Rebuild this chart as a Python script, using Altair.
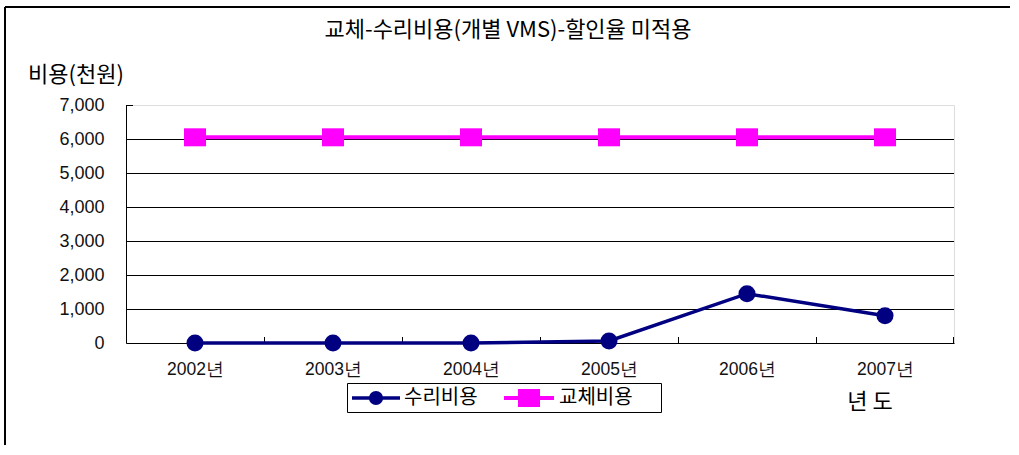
import altair as alt
import pandas as pd

years = ["2002년", "2003년", "2004년", "2005년", "2006년", "2007년"]
repair = [0, 0, 0, 60, 1450, 800]
replace = [6050, 6050, 6050, 6050, 6050, 6050]
series = ["수리비용", "교체비용"]
colors = ["#000080", "#FF00FF"]
grid_values = [1000, 2000, 3000, 4000, 5000, 6000]
y_ticks = [0, 1000, 2000, 3000, 4000, 5000, 6000, 7000]
title_text = "교체-수리비용(개별 VMS)-할인율 미적용"
y_title = "비용(천원)"
x_title = "년 도"

W, H = 828, 238
KFONT = "Noto Sans CJK KR"
NFONT = "Liberation Sans"

df = pd.DataFrame({
    "year": years * 2,
    "value": repair + replace,
    "series": [series[0]] * len(years) + [series[1]] * len(years),
})
df_rep = df[df.series == series[0]]
df_repl = df[df.series == series[1]]

yscale = alt.Scale(domain=[0, 7000], nice=False, zero=True)
xscale = alt.Scale(type="point", padding=0.5, domain=years)

x_axis = alt.Axis(domain=True, domainColor="black", domainWidth=1, ticks=False, grid=False,
                  labelAngle=0, labelFont=NFONT, labelFontSize=17.5, labelColor="#111111",
                  labelPadding=17)
y_axis = alt.Axis(values=y_ticks, format=",.0f", domain=True, domainColor="black", domainWidth=1,
                  ticks=False, grid=False, labelFont=NFONT, labelFontSize=18,
                  labelColor="#111111", labelPadding=22)

X = alt.X("year:O", scale=xscale, title=None, axis=x_axis)
Y = alt.Y("value:Q", scale=yscale, title=None, axis=y_axis)

grid = alt.Chart(pd.DataFrame({"value": grid_values})).mark_rule(color="black", strokeWidth=1).encode(
    y=Y, yOffset=alt.value(0.5), x=alt.value(0), x2=alt.value(W))
stub = alt.Chart(pd.DataFrame({"value": [7000]})).mark_rule(color="black", strokeWidth=1).encode(
    y=Y, yOffset=alt.value(0.5), x=alt.value(0), x2=alt.value(7))

xticks = alt.Chart(pd.DataFrame({"year": years})).mark_rule(color="black", strokeWidth=1).encode(
    x=X, xOffset=alt.value(-68.5), y=alt.value(H), y2=alt.value(H - 6))
xtick_end = alt.Chart(pd.DataFrame({"a": [1]})).mark_rule(color="black", strokeWidth=1).encode(
    x=alt.value(W - 0.5), y=alt.value(H), y2=alt.value(H - 6))

color_enc = alt.Color("series:N", scale=alt.Scale(domain=series, range=colors), legend=None)

line_repl = alt.Chart(df_repl).mark_line(strokeWidth=4).encode(x=X, y=Y, color=color_enc)
pts_repl = alt.Chart(df_repl).mark_point(
    shape="M-1.1,-0.9L1.1,-0.9L1.1,0.9L-1.1,0.9Z", size=400, filled=True, opacity=1).encode(
    x=X, y=Y, color=color_enc)
line_rep = alt.Chart(df_rep).mark_line(strokeWidth=3.5).encode(x=X, y=Y, color=color_enc)
pts_rep = alt.Chart(df_rep).mark_point(shape="circle", size=290, filled=True, opacity=1).encode(
    x=X, y=Y, color=color_enc)

one = pd.DataFrame({"a": [1]})
title = alt.Chart(one).mark_text(text=title_text, font=KFONT, fontSize=22, align="center",
                                 baseline="middle", color="black").encode(
    x=alt.value(382), y=alt.value(-75))
ytitle = alt.Chart(one).mark_text(text=y_title, font=KFONT, fontSize=22, align="left",
                                  baseline="middle", color="black").encode(
    x=alt.value(-98), y=alt.value(-30))
xtitle = alt.Chart(one).mark_text(text=x_title, font=KFONT, fontSize=22, align="center",
                                  baseline="middle", color="black").encode(
    x=alt.value(744), y=alt.value(297))

border_top = alt.Chart(one).mark_rule(color="black", strokeWidth=2).encode(
    x=alt.value(-121), x2=alt.value(884), y=alt.value(-98))
border_left = alt.Chart(one).mark_rule(color="black", strokeWidth=2).encode(
    x=alt.value(-121), y=alt.value(-98), y2=alt.value(340))

# legend
leg_box = alt.Chart(one).mark_rect(fill="white", stroke="black", strokeWidth=1).encode(
    x=alt.value(221.5), x2=alt.value(535.5), y=alt.value(278.5), y2=alt.value(307.5))
leg_line1 = alt.Chart(one).mark_rule(color=colors[0], strokeWidth=3.5).encode(
    x=alt.value(226), x2=alt.value(274), y=alt.value(293))
leg_pt1 = alt.Chart(one).mark_point(shape="circle", size=200, filled=True, opacity=1, color=colors[0]).encode(
    x=alt.value(250), y=alt.value(293))
leg_txt1 = alt.Chart(one).mark_text(text=series[0], font=KFONT, fontSize=20, align="left",
                                    baseline="middle", color="black").encode(
    x=alt.value(278), y=alt.value(293))
leg_line2 = alt.Chart(one).mark_rule(color=colors[1], strokeWidth=4).encode(
    x=alt.value(378), x2=alt.value(428), y=alt.value(293))
leg_pt2 = alt.Chart(one).mark_point(shape="M-1.1,-0.9L1.1,-0.9L1.1,0.9L-1.1,0.9Z", size=400,
                                    filled=True, opacity=1, color=colors[1]).encode(
    x=alt.value(403), y=alt.value(293))
leg_txt2 = alt.Chart(one).mark_text(text=series[1], font=KFONT, fontSize=20, align="left",
                                    baseline="middle", color="black").encode(
    x=alt.value(433), y=alt.value(293))

chart = alt.layer(
    grid, stub, xticks, xtick_end,
    line_repl, pts_repl, line_rep, pts_rep,
    title, ytitle, xtitle, border_top, border_left,
    leg_box, leg_line1, leg_pt1, leg_txt1, leg_line2, leg_pt2, leg_txt2,
).properties(
    width=W, height=H,
    autosize=alt.AutoSizeParams(type="none"),
    padding={"left": 126, "top": 105, "right": 65, "bottom": 112},
).configure_view(stroke=None).configure(background="white")

chart.save("out.html", embed_options={"renderer": "svg", "actions": False})
